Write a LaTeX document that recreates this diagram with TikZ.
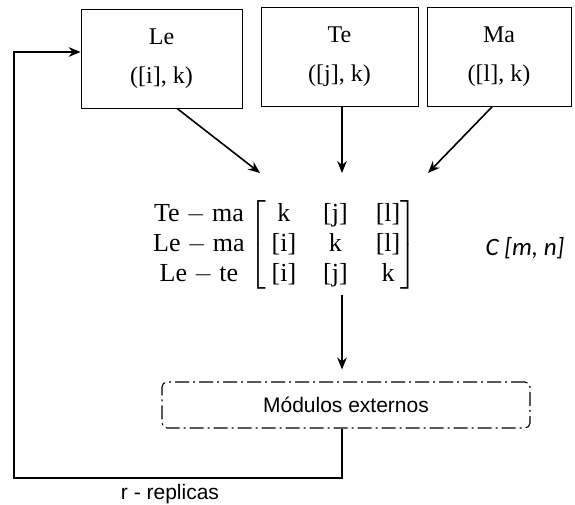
\documentclass[tikz,border=0pt]{standalone}
\usepackage{amsmath}
\usepackage{fontspec}
\setmainfont{Liberation Serif}
\setsansfont{Liberation Sans}
\newfontfamily\calibrifont{Carlito}
\usetikzlibrary{arrows.meta,positioning,calc}

\begin{document}
\begin{tikzpicture}[
    >={Stealth[length=4.2mm,width=3.4mm]},
    x=1pt, y=-1pt,
    dbox/.style={draw,line width=0.8pt,minimum height=99pt,inner sep=0pt,
                 align=center,font=\fontsize{24}{39}\selectfont},
    flow/.style={->,line width=1.6pt},
    modbox/.style={draw,rounded corners=5pt,line width=1.1pt,
                   dash pattern=on 14pt off 4pt on 2pt off 4pt,
                   minimum width=368pt,minimum height=46pt,
                   font=\sffamily\fontsize{21}{25}\selectfont},
    matfont/.style={inner sep=0pt,font=\fontsize{26}{30}\selectfont},
  ]
  \useasboundingbox (0,0) rectangle (575,505);

  % --- the three source blocks ---
  \node[dbox,minimum width=161pt] (le) at (161.5,58.5) {Le\\([i], k)};
  \node[dbox,minimum width=157pt] (te) at (339.5,57)   {Te\\([j], k)};
  \node[dbox,minimum width=144pt] (ma) at (499,57)     {Ma\\([l], k)};

  % --- arrow ends above the matrix ---
  \coordinate (tipL) at (260,173);
  \coordinate (tipT) at (342,173);
  \coordinate (tipM) at (428,173);

  % --- combination matrix ---
  \node[matfont] (mat) at (333,245) {$\left[\begin{tabular}{@{\hspace{6pt}}c@{\hspace{27pt}}c@{\hspace{28pt}}c@{\hspace{0pt}}}
      k & [j] & [l]\\
      {[i]} & k & [l]\\
      {[i]} & [j] & k
    \end{tabular}\right]$};
  \node[matfont,anchor=east,xshift=-4pt] (rows) at (mat.west) {\begin{tabular}{@{}c@{}}
      Te $-$ ma\\
      Le $-$ ma\\
      Le $-$ te
    \end{tabular}};
  \node[font=\calibrifont\itshape\fontsize{25}{30}\selectfont] (cmn) at (525,248) {C [m, n]};

  % --- external modules ---
  \node[modbox] (mod) at (346,405) {Módulos externos};
  \coordinate (loopL) at (14,478);
  \node[font=\sffamily\fontsize{21}{25}\selectfont] (reps) at (170,494) {r - replicas};

  % --- connectors ---
  \draw[flow] ([xshift=15.5pt]le.south) -- (tipL);
  \draw[flow] (te.south -| tipT) -- (tipT);
  \draw[flow] ([xshift=-7pt]ma.south) -- (tipM);
  \draw[flow,shorten <=5pt,shorten >=12pt] (mat.south -| tipT) -- (mod.north -| tipT);
  \draw[flow] (mod.south -| tipT) |- (loopL) |- ([yshift=6.5pt]le.west);

\end{tikzpicture}
\end{document}
